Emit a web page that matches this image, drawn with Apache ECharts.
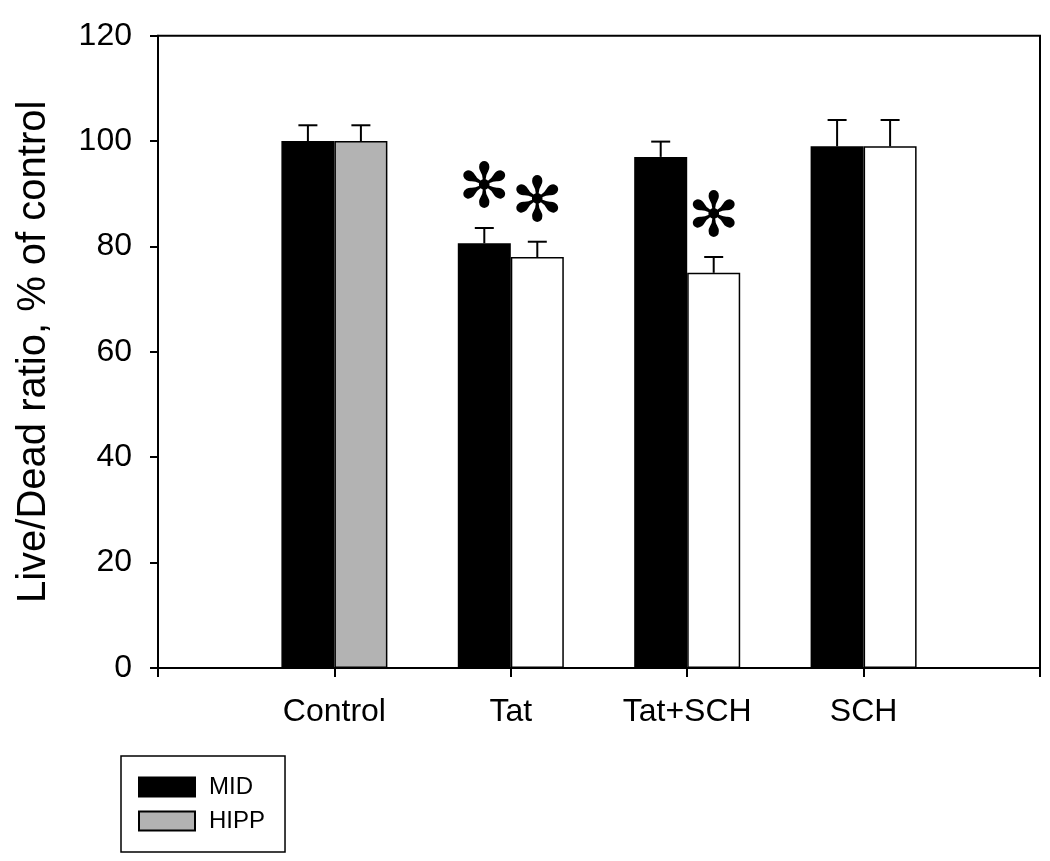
<!DOCTYPE html>
<html>
<head>
<meta charset="utf-8">
<script src="https://cdn.jsdelivr.net/npm/echarts@6/dist/echarts.min.js"></script>
<style>
html,body{margin:0;padding:0;background:#fff;}
#chart{width:1050px;height:861px;}
</style>
</head>
<body>
<div id="chart"></div>
<script>
// ---- data ----
const groups = ['Control', 'Tat', 'Tat+SCH', 'SCH'];
const midValues  = [100.0, 80.6, 97.0, 99.0];
const midErrors  = [3.0, 2.9, 2.9, 5.0];
const hippValues = [100.0, 78.0, 75.0, 99.0];
const hippErrors = [3.0, 2.9, 3.0, 5.0];
const midSig  = [false, true, false, false];
const hippSig = [false, true, true, false];
const yTicks = [0, 20, 40, 60, 80, 100, 120];

// ---- build chart ----
const FONT = '"Liberation Sans", Arial, sans-serif';
const BAR_W = 53;
const axisCats = [''].concat(groups, ['']);
const pad = arr => ['-'].concat(arr, ['-']);

const hippData = pad(hippValues).map((v, i) => {
  if (v === '-') return v;
  return { value: v, itemStyle: { color: i === 1 ? '#b3b3b3' : '#ffffff' } };
});

const errData = [];
groups.forEach((g, i) => {
  errData.push([i + 1, midValues[i], midErrors[i], -1, midSig[i] ? 1 : 0]);
  errData.push([i + 1, hippValues[i], hippErrors[i], 1, hippSig[i] ? 1 : 0]);
});

const chart = echarts.init(document.getElementById('chart'), null, { renderer: 'canvas' });
chart.setOption({
  animation: false,
  backgroundColor: '#fff',
  grid: {
    left: 158, right: 10, top: 35.7, bottom: 193,
    show: true, borderColor: '#000', borderWidth: 2, backgroundColor: 'transparent'
  },
  legend: {
    orient: 'vertical',
    left: 121, top: 756,
    padding: [19, 20, 19, 17],
    borderColor: '#000', borderWidth: 1.5,
    itemWidth: 56, itemHeight: 19, itemGap: 10,
    icon: 'rect',
    data: ['MID', 'HIPP'],
    textStyle: { fontFamily: FONT, fontSize: 24, color: '#000', padding: [0, 0, 0, 9] }
  },
  xAxis: {
    type: 'category',
    data: axisCats,
    boundaryGap: false,
    axisLine: { lineStyle: { color: '#000', width: 2 } },
    axisTick: { show: true, length: 9, interval: 0, lineStyle: { color: '#000', width: 2 } },
    axisLabel: { interval: 0, margin: 28, fontFamily: FONT, fontSize: 32, color: '#000' },
    splitLine: { show: false }
  },
  yAxis: {
    type: 'value',
    min: yTicks[0], max: yTicks[yTicks.length - 1], interval: yTicks[1] - yTicks[0],
    name: 'Live/Dead ratio, % of control',
    nameLocation: 'middle',
    nameGap: 104,
    nameTextStyle: { fontFamily: FONT, fontSize: 40, color: '#000' },
    axisLine: { show: true, lineStyle: { color: '#000', width: 2 } },
    axisTick: { show: true, length: 8, lineStyle: { color: '#000', width: 2 } },
    axisLabel: { margin: 26, fontFamily: FONT, fontSize: 32, color: '#000' },
    splitLine: { show: false }
  },
  series: [
    {
      name: 'MID', type: 'bar', barWidth: BAR_W, barGap: '0%',
      data: pad(midValues),
      itemStyle: { color: '#000', borderColor: '#000', borderWidth: 1.5 }
    },
    {
      name: 'HIPP', type: 'bar', barWidth: BAR_W, barGap: '0%',
      data: hippData,
      itemStyle: { color: '#b3b3b3', borderColor: '#000', borderWidth: 1.5 }
    },
    {
      name: 'err', type: 'custom', z: 5,
      data: errData,
      encode: { x: 0, y: 1 },
      renderItem: function (params, api) {
        const x = api.value(0), v = api.value(1), e = api.value(2), side = api.value(3), sig = api.value(4);
        const base = api.coord([x, v]);
        const top = api.coord([x, v + e]);
        const cx = base[0] + side * BAR_W / 2;
        const children = [
          { type: 'line', shape: { x1: cx, y1: base[1], x2: cx, y2: top[1] }, style: { stroke: '#000', lineWidth: 2 } },
          { type: 'line', shape: { x1: cx - 9.5, y1: top[1], x2: cx + 9.5, y2: top[1] }, style: { stroke: '#000', lineWidth: 2 } }
        ];
        if (sig) {
          children.push({
            type: 'text',
            style: { x: cx, y: top[1] - 37, text: '\u273B', fontSize: 62, fontFamily: '"DejaVu Sans", sans-serif',
                     fill: '#000', textAlign: 'center', textVerticalAlign: 'middle' }
          });
        }
        return { type: 'group', children: children };
      }
    }
  ]
});
</script>
</body>
</html>
